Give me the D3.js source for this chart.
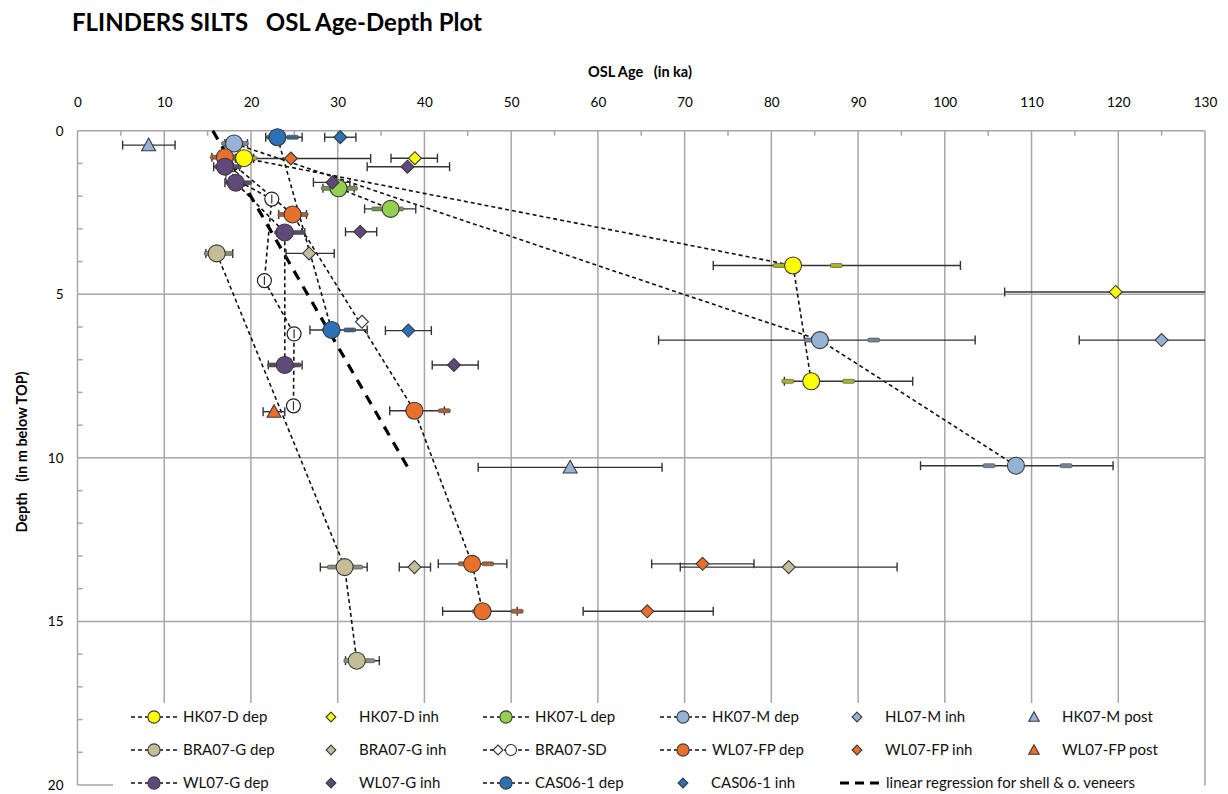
<!DOCTYPE html>
<html>
<head>
<meta charset="utf-8">
<script src="https://cdn.jsdelivr.net/npm/d3@7"></script>
<style>
  html, body { margin: 0; padding: 0; background: #fff; }
  svg { display: block; font-family: Lato, "Open Sans", sans-serif; }
  svg text { white-space: pre; }
</style>
</head>
<body>
<svg id="chart" width="1228" height="794"></svg>
<script>
// OSL ages (ka) against depth (m below top). Each point: age, depth,
// error-bar low/high, and optional inner range [lo, hi].
const hk07D_dep = [
  { age: 19.2, depth: 0.84, lo: 18.2, hi: 20.3, inner: [18.6, 20.0] },
  { age: 82.5, depth: 4.12, lo: 73.3, hi: 101.8, inner: [80.9, 87.5] },
  { age: 84.6, depth: 7.66, lo: 81.5, hi: 96.3, inner: [81.9, 88.9] }
];
const hk07D_inh = [
  { age: 38.9, depth: 0.84, lo: 36.15, hi: 41.5 },
  { age: 119.7, depth: 4.93, lo: 106.9, hi: 134 }
];
const hk07L_dep = [
  { age: 30.1, depth: 1.76, lo: 28.3, hi: 31.9, inner: [28.8, 31.6] },
  { age: 36.1, depth: 2.39, lo: 33.1, hi: 39.0, inner: [34.6, 36.9] }
];
const hk07M_dep = [
  { age: 18.05, depth: 0.39, lo: 17.0, hi: 19.6, inner: [17.3, 19.0] },
  { age: 85.6, depth: 6.40, lo: 67.0, hi: 103.5, inner: [84.5, 91.8] },
  { age: 108.2, depth: 10.24, lo: 97.2, hi: 119.4, inner: [105.1, 114.0] }
];
const hl07M_inh = [
  { age: 125.0, depth: 6.40, lo: 115.5, hi: 136 }
];
const hk07M_post = [
  { age: 8.2, depth: 0.44, lo: 5.2, hi: 11.25 },
  { age: 56.8, depth: 10.29, lo: 46.2, hi: 67.4 }
];
const bra07G_dep = [
  { age: 16.05, depth: 3.75, lo: 14.8, hi: 17.9, inner: [15.3, 17.2] },
  { age: 30.8, depth: 13.34, lo: 28.0, hi: 33.4, inner: [29.5, 32.2] },
  { age: 32.2, depth: 16.2, lo: 30.9, hi: 34.8, inner: [31.4, 33.6] }
];
const bra07G_inh = [
  { age: 26.7, depth: 3.75, lo: 24.05, hi: 29.6 },
  { age: 38.85, depth: 13.34, lo: 37.1, hi: 40.7 },
  { age: 82.0, depth: 13.34, lo: 69.5, hi: 94.5 }
];
const bra07SD = [
  { age: 17.9, depth: 1.45, lo: 17.9, hi: 17.9 },
  { age: 22.4, depth: 2.09, lo: 22.4, hi: 22.4 },
  { age: 21.55, depth: 4.58, lo: 21.55, hi: 21.55 },
  { age: 24.97, depth: 6.21, lo: 24.97, hi: 24.97 },
  { age: 24.9, depth: 8.41, lo: 24.9, hi: 24.9 }
];
const bra07SD_inh = [
  { age: 32.8, depth: 5.84, lo: 32.8, hi: 32.8 }
];
const wl07FP_dep = [
  { age: 17.0, depth: 0.81, lo: 15.5, hi: 18.7, inner: [16.0, 18.0] },
  { age: 24.8, depth: 2.56, lo: 23.2, hi: 26.4, inner: [23.8, 25.9] },
  { age: 38.85, depth: 8.56, lo: 36.0, hi: 42.3, inner: [38.5, 42.3] },
  { age: 45.5, depth: 13.24, lo: 41.6, hi: 49.5, inner: [44.6, 47.3] },
  { age: 46.7, depth: 14.69, lo: 42.1, hi: 50.7, inner: [46.2, 50.7] }
];
const wl07FP_inh = [
  { age: 24.6, depth: 0.85, lo: 20.3, hi: 33.8 },
  { age: 72.07, depth: 13.24, lo: 66.2, hi: 78.0 },
  { age: 65.7, depth: 14.69, lo: 58.3, hi: 73.3 }
];
const wl07FP_post = [
  { age: 22.66, depth: 8.59, lo: 21.4, hi: 23.9 }
];
const wl07G_dep = [
  { age: 17.0, depth: 1.10, lo: 15.7, hi: 18.7, inner: [16.5, 18.2] },
  { age: 18.25, depth: 1.59, lo: 17.0, hi: 18.9, inner: [17.8, 19.4] },
  { age: 23.9, depth: 3.11, lo: 23.0, hi: 26.2, inner: [23.4, 25.5] },
  { age: 23.9, depth: 7.16, lo: 22.0, hi: 25.9, inner: [22.6, 25.1] }
];
const wl07G_inh = [
  { age: 38.04, depth: 1.10, lo: 33.4, hi: 42.9 },
  { age: 29.4, depth: 1.58, lo: 27.2, hi: 31.4 },
  { age: 32.6, depth: 3.09, lo: 30.9, hi: 34.5 },
  { age: 43.4, depth: 7.16, lo: 40.9, hi: 46.2 }
];
const cas06_dep = [
  { age: 23.05, depth: 0.20, lo: 21.7, hi: 25.9, inner: [22.5, 24.8] },
  { age: 29.3, depth: 6.09, lo: 26.8, hi: 33.4, inner: [28.9, 31.4] }
];
const cas06_inh = [
  { age: 30.3, depth: 0.20, lo: 28.5, hi: 32.1 },
  { age: 38.15, depth: 6.11, lo: 35.5, hi: 40.8 }
];
// Regression line for shell & other veneers (age at top and bottom depth)
const regression = [
  { age: 15.6, depth: 0 },
  { age: 38.15, depth: 10.32 }
];

const xTicks = d3.range(0, 131, 10);
const yTicks = [0, 5, 10, 15, 20];

// Series definitions: data, marker type, colours, connecting line
const series = [
  { name: "HK07-D dep", data: hk07D_dep, shape: "circle", fill: "#ffff00", line: true },
  { name: "HK07-D inh", data: hk07D_inh, shape: "diamond", fill: "#ffff00", line: false },
  { name: "HK07-L dep", data: hk07L_dep, shape: "circle", fill: "#92d050", line: true },
  { name: "HK07-M dep", data: hk07M_dep, shape: "circle", fill: "#95b3d7", line: true },
  { name: "HL07-M inh", data: hl07M_inh, shape: "diamond", fill: "#95b3d7", line: false },
  { name: "HK07-M post", data: hk07M_post, shape: "triangle", fill: "#95b3d7", line: false },
  { name: "BRA07-G dep", data: bra07G_dep, shape: "circle", fill: "#c4bd97", line: true },
  { name: "BRA07-G inh", data: bra07G_inh, shape: "diamond", fill: "#c4bd97", line: false },
  { name: "BRA07-SD", data: bra07SD, shape: "ocircle", fill: "#ffffff", line: true },
  { name: "BRA07-SD inh", data: bra07SD_inh, shape: "diamond", fill: "#ffffff", line: false },
  { name: "WL07-FP dep", data: wl07FP_dep, shape: "circle", fill: "#e8702a", line: true },
  { name: "WL07-FP inh", data: wl07FP_inh, shape: "diamond", fill: "#e8702a", line: false },
  { name: "WL07-FP post", data: wl07FP_post, shape: "triangle", fill: "#e8702a", line: false },
  { name: "WL07-G dep", data: wl07G_dep, shape: "circle", fill: "#60497a", line: true },
  { name: "WL07-G inh", data: wl07G_inh, shape: "diamond", fill: "#60497a", line: false },
  { name: "CAS06-1 dep", data: cas06_dep, shape: "circle", fill: "#2a72b5", line: true },
  { name: "CAS06-1 inh", data: cas06_inh, shape: "diamond", fill: "#2a72b5", line: false }
];

const svg = d3.select("#chart");
const x = d3.scaleLinear().domain([0, 130]).range([77.5, 1205]);
const y = d3.scaleLinear().domain([0, 20]).range([130.7, 785]);
const gridColor = "#a6a6a6";

// Title and axis titles
svg.append("text").attr("x", 72).attr("y", 31)
  .attr("font-size", 24).attr("font-weight", "bold")
  .text("FLINDERS SILTS   OSL Age-Depth Plot");
svg.append("text").attr("x", 640).attr("y", 77).attr("text-anchor", "middle")
  .attr("font-size", 14.5).attr("font-weight", "bold")
  .text("OSL Age   (in ka)");
svg.append("text").attr("transform", "translate(27,452) rotate(-90)")
  .attr("text-anchor", "middle").attr("font-size", 14.5).attr("font-weight", "bold")
  .text("Depth   (in m below TOP)");

// Gridlines
const grid = svg.append("g");
grid.selectAll("line.v").data(xTicks).join("line")
  .attr("x1", d => x(d)).attr("x2", d => x(d))
  .attr("y1", y(0)).attr("y2", y(20))
  .attr("stroke", gridColor).attr("stroke-width", 1.5);
grid.selectAll("line.h").data(yTicks).join("line")
  .attr("x1", x(0)).attr("x2", x(130))
  .attr("y1", d => y(d)).attr("y2", d => y(d))
  .attr("stroke", gridColor).attr("stroke-width", 1.5);
// Minor ticks
grid.selectAll("line.mx").data(d3.range(5, 130, 10)).join("line")
  .attr("x1", d => x(d)).attr("x2", d => x(d))
  .attr("y1", y(0)).attr("y2", y(0) + 5)
  .attr("stroke", gridColor).attr("stroke-width", 1.5);
grid.selectAll("line.my").data(d3.range(1, 20).filter(d => d % 5)).join("line")
  .attr("x1", x(0)).attr("x2", x(0) + 5)
  .attr("y1", d => y(d)).attr("y2", d => y(d))
  .attr("stroke", gridColor).attr("stroke-width", 1.5);

// Axes (labels only)
const xAxis = svg.append("g").attr("transform", `translate(0,${y(0)})`)
  .call(d3.axisTop(x).tickValues(xTicks).tickSize(0).tickPadding(24));
const yAxis = svg.append("g").attr("transform", `translate(${x(0)},0)`)
  .call(d3.axisLeft(y).tickValues(yTicks).tickSize(0).tickPadding(14));
[xAxis, yAxis].forEach(a => {
  a.select(".domain").remove();
  a.selectAll("text").attr("font-size", 13.5).attr("font-family", "Lato, sans-serif").attr("fill", "#000");
});

const plot = svg.append("g");
const lineGen = d3.line().x(d => x(d.age)).y(d => y(d.depth));

// Connecting dashed lines
series.filter(s => s.line).forEach(s => {
  plot.append("path").datum(s.data).attr("d", lineGen)
    .attr("fill", "none").attr("stroke", "#111").attr("stroke-width", 1.6)
    .attr("stroke-dasharray", "4,3");
});
// Regression line
plot.append("path").datum(regression).attr("d", lineGen)
  .attr("fill", "none").attr("stroke", "#000").attr("stroke-width", 3.2)
  .attr("stroke-dasharray", "10,8");

// Error bars
const clip = v => Math.min(v, 130);
series.forEach(s => {
  const g = plot.append("g");
  s.data.forEach(d => {
    const yy = y(d.depth);
    g.append("line").attr("x1", x(d.lo)).attr("x2", x(clip(d.hi)))
      .attr("y1", yy).attr("y2", yy).attr("stroke", "#333").attr("stroke-width", 1.4);
    [d.lo, d.hi].filter(v => v <= 130).forEach(v => {
      g.append("line").attr("x1", x(v)).attr("x2", x(v))
        .attr("y1", yy - 4.5).attr("y2", yy + 4.5)
        .attr("stroke", "#333").attr("stroke-width", 1.4);
    });
  });
});

// Inner range markers
series.forEach(s => {
  const col = d3.interpolateRgb(s.fill, "#505050")(0.45);
  s.data.filter(d => d.inner).forEach(d => {
    d.inner.forEach(v => {
      plot.append("rect").attr("x", x(v) - 6).attr("y", y(d.depth) - 2)
        .attr("width", 12).attr("height", 4).attr("rx", 1.5)
        .attr("fill", col).attr("stroke", "#444").attr("stroke-width", 0.6);
    });
  });
});

// Marker drawing
function marker(g, shape, cx, cy, fill, scale = 1) {
  if (shape === "circle") {
    g.append("circle").attr("cx", cx).attr("cy", cy).attr("r", 8.5 * scale)
      .attr("fill", fill).attr("stroke", "#3a3a3a").attr("stroke-width", 1.1);
  } else if (shape === "ocircle") {
    g.append("circle").attr("cx", cx).attr("cy", cy).attr("r", 7 * scale)
      .attr("fill", "#fff").attr("stroke", "#222").attr("stroke-width", 1.2);
    g.append("line").attr("x1", cx).attr("x2", cx).attr("y1", cy - 4.5 * scale).attr("y2", cy + 4.5 * scale)
      .attr("stroke", "#333").attr("stroke-width", 1.2);
  } else if (shape === "diamond") {
    const r = 6.5 * scale;
    g.append("path").attr("d", `M${cx},${cy - r}L${cx + r},${cy}L${cx},${cy + r}L${cx - r},${cy}Z`)
      .attr("fill", fill).attr("stroke", "#3a3a3a").attr("stroke-width", 1.1);
  } else if (shape === "triangle") {
    const r = 7 * scale;
    g.append("path").attr("d", `M${cx},${cy - r}L${cx + r},${cy + r * 0.8}L${cx - r},${cy + r * 0.8}Z`)
      .attr("fill", fill).attr("stroke", "#3a3a3a").attr("stroke-width", 1.1);
  }
}
series.forEach(s => {
  const g = plot.append("g");
  s.data.forEach(d => marker(g, s.shape, x(d.age), y(d.depth), s.fill));
});

// Legend
const lg = svg.append("g");
lg.append("rect").attr("x", 113).attr("y", 703).attr("width", 1091).attr("height", 85).attr("fill", "#fff");
const rows = [717, 750, 783];
const legendItems = [
  { s: "HK07-D dep", col: 154, row: 0, kind: "dashline" },
  { s: "HK07-D inh", col: 331, row: 0, kind: "mark" },
  { s: "HK07-L dep", col: 506, row: 0, kind: "dashline" },
  { s: "HK07-M dep", col: 683, row: 0, kind: "dashline" },
  { s: "HL07-M inh", col: 857, row: 0, kind: "mark" },
  { s: "HK07-M post", col: 1034, row: 0, kind: "mark" },
  { s: "BRA07-G dep", col: 154, row: 1, kind: "dashline" },
  { s: "BRA07-G inh", col: 331, row: 1, kind: "mark" },
  { s: "BRA07-SD", col: 506, row: 1, kind: "sd" },
  { s: "WL07-FP dep", col: 683, row: 1, kind: "dashline" },
  { s: "WL07-FP inh", col: 857, row: 1, kind: "mark" },
  { s: "WL07-FP post", col: 1034, row: 1, kind: "mark" },
  { s: "WL07-G dep", col: 154, row: 2, kind: "dashline" },
  { s: "WL07-G inh", col: 331, row: 2, kind: "mark" },
  { s: "CAS06-1 dep", col: 506, row: 2, kind: "dashline" },
  { s: "CAS06-1 inh", col: 683, row: 2, kind: "mark" },
  { s: "linear regression for shell & o. veneers", col: 860, row: 2, kind: "reg" }
];
legendItems.forEach(it => {
  const cy = rows[it.row];
  const ser = series.find(s => s.name === it.s);
  let tx;
  if (it.kind === "dashline") {
    lg.append("line").attr("x1", it.col - 23).attr("x2", it.col + 25).attr("y1", cy).attr("y2", cy)
      .attr("stroke", "#111").attr("stroke-width", 1.6).attr("stroke-dasharray", "4,3");
    marker(lg, ser.shape, it.col, cy, ser.fill, 0.72);
    tx = it.col + 29;
  } else if (it.kind === "sd") {
    lg.append("line").attr("x1", it.col - 23).attr("x2", it.col + 25).attr("y1", cy).attr("y2", cy)
      .attr("stroke", "#111").attr("stroke-width", 1.6).attr("stroke-dasharray", "4,3");
    lg.append("path").attr("d", `M${it.col - 8},${cy - 5}L${it.col - 3},${cy}L${it.col - 8},${cy + 5}L${it.col - 13},${cy}Z`)
      .attr("fill", "#fff").attr("stroke", "#333").attr("stroke-width", 1.1);
    lg.append("circle").attr("cx", it.col + 5).attr("cy", cy).attr("r", 5.5)
      .attr("fill", "#fff").attr("stroke", "#333").attr("stroke-width", 1.1);
    tx = it.col + 29;
  } else if (it.kind === "mark") {
    marker(lg, ser.shape, it.col, cy, ser.fill, 0.75);
    tx = it.col + 28;
  } else {
    lg.append("line").attr("x1", it.col - 20).attr("x2", it.col + 20).attr("y1", cy).attr("y2", cy)
      .attr("stroke", "#000").attr("stroke-width", 3).attr("stroke-dasharray", "9,6");
    tx = it.col + 26;
  }
  lg.append("text").attr("x", tx).attr("y", cy).attr("dy", "0.35em")
    .attr("font-size", 15).attr("fill", "#111").text(it.s);
});
</script>
</body>
</html>
